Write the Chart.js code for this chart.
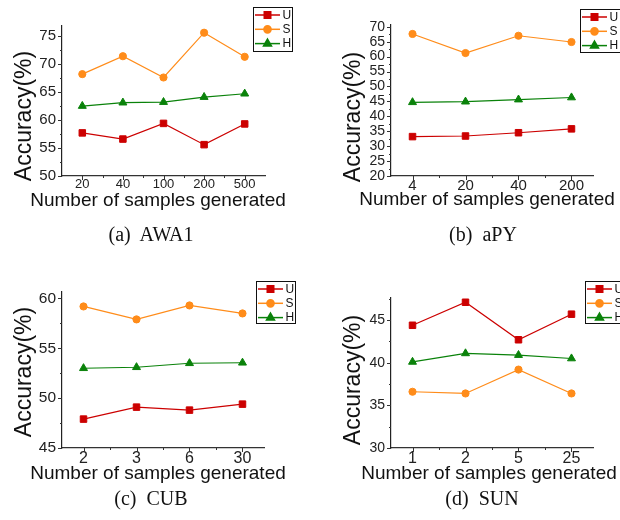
<!DOCTYPE html>
<html>
<head>
<meta charset="utf-8">
<script src="https://cdn.jsdelivr.net/npm/chart.js@4.4.0/dist/chart.umd.min.js"></script>
<style>
body{margin:0;background:#fff;width:620px;height:520px;position:relative;overflow:hidden;font-family:"Liberation Sans",Arial,sans-serif;color:#111}
.panel{position:absolute;width:310px;height:260px}
.txt{position:absolute;white-space:nowrap;transform:translate(-50%,-50%);line-height:1}
.ytitle{transform:translate(-50%,-50%) rotate(-90deg);font-size:23px}
.xtitle{font-size:19px}
.cap{font-family:"Liberation Serif","Times New Roman",serif;font-size:20px;word-spacing:5px}
</style>
</head>
<body>

<div class="panel" style="left:0;top:0"><canvas id="awa" width="310" height="260"></canvas></div>
<div class="panel" style="left:310px;top:0"><canvas id="apy" width="310" height="260"></canvas></div>
<div class="panel" style="left:0;top:260px"><canvas id="cub" width="310" height="260"></canvas></div>
<div class="panel" style="left:310px;top:260px"><canvas id="sun" width="310" height="260"></canvas></div>

<div class="txt ytitle" style="left:23px;top:116px">Accuracy(%)</div>
<div class="txt xtitle" style="left:158px;top:199px">Number of samples generated</div>
<div class="txt cap" style="left:151px;top:234px">(a) AWA1</div>

<div class="txt ytitle" style="left:352px;top:117px">Accuracy(%)</div>
<div class="txt xtitle" style="left:487px;top:198px">Number of samples generated</div>
<div class="txt cap" style="left:483px;top:234px">(b) aPY</div>

<div class="txt ytitle" style="left:23px;top:372px">Accuracy(%)</div>
<div class="txt xtitle" style="left:158px;top:472px">Number of samples generated</div>
<div class="txt cap" style="left:151px;top:498px">(c) CUB</div>

<div class="txt ytitle" style="left:352px;top:380px">Accuracy(%)</div>
<div class="txt xtitle" style="left:489px;top:472px">Number of samples generated</div>
<div class="txt cap" style="left:482px;top:498px">(d) SUN</div>

<script>
// data
const awaCats = ['20', '40', '100', '200', '500'];
const awaU = [57.7, 56.6, 59.4, 55.6, 59.3];
const awaS = [68.2, 71.4, 67.6, 75.6, 71.3];
const awaH = [62.5, 63.1, 63.2, 64.1, 64.7];
const awaTicks = [50, 55, 60, 65, 70, 75];

const apyCats = ['4', '20', '40', '200'];
const apyU = [33.2, 33.4, 34.5, 35.8];
const apyS = [67.6, 61.2, 67.0, 64.9];
const apyH = [44.7, 44.9, 45.6, 46.3];
const apyTicks = [20, 25, 30, 35, 40, 45, 50, 55, 60, 65, 70];

const cubCats = ['2', '3', '6', '30'];
const cubU = [47.9, 49.1, 48.8, 49.4];
const cubS = [59.2, 57.9, 59.3, 58.5];
const cubH = [53.0, 53.1, 53.5, 53.55];
const cubTicks = [45, 50, 55, 60];

const sunCats = ['1', '2', '5', '25'];
const sunU = [44.4, 47.1, 42.7, 45.7];
const sunS = [36.6, 36.4, 39.2, 36.4];
const sunH = [40.1, 41.1, 40.9, 40.5];
const sunTicks = [30, 35, 40, 45];

const seriesNames = ['U', 'S', 'H'];
const colors = ['#cc0000', '#ff8c1a', '#0a820a'];
const styles = ['rect', 'circle', 'triangle'];
const radii = [4.6, 3.6, 4.6];

// minor/major tick marks, drawn outward from the axes
const axisTicks = {
  id: 'axisTicks',
  afterDraw(chart, args, o) {
    const ctx = chart.ctx, x = chart.scales.x, y = chart.scales.y;
    ctx.save();
    ctx.strokeStyle = '#333';
    ctx.lineWidth = 1;
    const step = o.yTicks[1] - o.yTicks[0];
    o.yTicks.forEach(v => {
      let p = Math.round(y.getPixelForValue(v)) + 0.5;
      ctx.beginPath(); ctx.moveTo(x.left - 4, p); ctx.lineTo(x.left, p); ctx.stroke();
      if (v + step / 2 <= y.max) {
        p = Math.round(y.getPixelForValue(v + step / 2)) + 0.5;
        ctx.beginPath(); ctx.moveTo(x.left - 2, p); ctx.lineTo(x.left, p); ctx.stroke();
      }
    });
    for (let i = 0; i < o.n; i++) {
      let p = Math.round(x.getPixelForValue(i)) + 0.5;
      ctx.beginPath(); ctx.moveTo(p, y.bottom); ctx.lineTo(p, y.bottom + 4); ctx.stroke();
      if (i < o.n - 1) {
        p = Math.round(x.getPixelForValue(i + 0.5)) + 0.5;
        ctx.beginPath(); ctx.moveTo(p, y.bottom); ctx.lineTo(p, y.bottom + 2); ctx.stroke();
      }
    }
    ctx.restore();
  }
};

// boxed legend in the top right corner
const legendBox = {
  id: 'legendBox',
  afterDraw(chart, args, o) {
    const ctx = chart.ctx;
    ctx.save();
    ctx.strokeStyle = '#111';
    ctx.lineWidth = 1;
    ctx.strokeRect(o.x + 0.5, o.y + 0.5, o.w, o.h);
    chart.data.datasets.forEach((ds, i) => {
      const cy = o.y + 8 + i * 14.3;
      ctx.strokeStyle = ds.borderColor;
      ctx.lineWidth = 1.5;
      ctx.beginPath(); ctx.moveTo(o.x + 2, cy); ctx.lineTo(o.x + 27, cy); ctx.stroke();
      ctx.fillStyle = ds.borderColor;
      Chart.helpers.drawPoint(ctx, {pointStyle: ds.pointStyle, radius: ds.pointRadius, borderWidth: 1, rotation: 0}, o.x + 14.5, cy);
      ctx.fillStyle = '#111';
      ctx.font = '12px "Liberation Sans", Arial, sans-serif';
      ctx.textBaseline = 'middle';
      ctx.fillText(ds.label, o.x + 29.5, cy + 0.5);
    });
    ctx.restore();
  }
};

function makePanel(id, cats, u, s, h, yTicks, p) {
  const series = [u, s, h];
  const datasets = series.map((vals, k) => ({
    label: seriesNames[k],
    data: vals.map((v, i) => ({x: i, y: v})),
    borderColor: colors[k],
    backgroundColor: colors[k],
    pointBackgroundColor: colors[k],
    pointBorderColor: colors[k],
    pointStyle: styles[k],
    pointRadius: radii[k],
    pointBorderWidth: 1,
    borderWidth: 1.2,
    tension: 0
  }));

  new Chart(document.getElementById(id), {
    type: 'line',
    data: {datasets: datasets},
    options: {
      responsive: false,
      animation: false,
      layout: {padding: {left: 0, top: p.top, right: 310 - p.right, bottom: 0}},
      plugins: {
        legend: {display: false},
        tooltip: {enabled: false},
        axisTicks: {yTicks: yTicks, n: cats.length},
        legendBox: p.legend
      },
      scales: {
        x: {
          type: 'linear',
          min: -p.xpad,
          max: cats.length - 1 + p.xpad,
          afterBuildTicks: sc => { sc.ticks = cats.map((c, i) => ({value: i})); },
          afterFit: sc => { sc.height = 260 - p.bottom; },
          grid: {drawOnChartArea: false, drawTicks: false},
          border: {display: true, color: '#333', width: 1.2},
          ticks: {
            callback: v => cats[v],
            padding: 1,
            maxRotation: 0,
            autoSkip: false,
            color: '#222',
            font: {family: '"Liberation Sans", Arial, sans-serif', size: p.xFont}
          }
        },
        y: {
          min: p.ymin,
          max: p.ymax,
          afterBuildTicks: sc => { sc.ticks = yTicks.map(v => ({value: v})); },
          afterFit: sc => { sc.width = p.left; },
          grid: {drawOnChartArea: false, drawTicks: false},
          border: {display: true, color: '#222', width: 1.2},
          ticks: {
            padding: 6,
            autoSkip: false,
            color: '#222',
            font: {family: '"Liberation Sans", Arial, sans-serif', size: p.yFont}
          }
        }
      }
    },
    plugins: [axisTicks, legendBox]
  });
}

makePanel('awa', awaCats, awaU, awaS, awaH, awaTicks,
  {left: 62, right: 265, top: 26, bottom: 176, ymin: 50, ymax: 76.8, xpad: 0.5, xFont: 13, yFont: 15,
   legend: {x: 253, y: 7, w: 39, h: 44}});
makePanel('apy', apyCats, apyU, apyS, apyH, apyTicks,
  {left: 81, right: 283, top: 25, bottom: 176, ymin: 20, ymax: 70.6, xpad: 0.406, xFont: 15, yFont: 14,
   legend: {x: 270, y: 9, w: 45, h: 43}});
makePanel('cub', cubCats, cubU, cubS, cubH, cubTicks,
  {left: 62, right: 264, top: 32, bottom: 188, ymin: 45, ymax: 60.65, xpad: 0.406, xFont: 16, yFont: 15.5,
   legend: {x: 256, y: 21, w: 39, h: 42}});
makePanel('sun', sunCats, sunU, sunS, sunH, sunTicks,
  {left: 81, right: 283, top: 38, bottom: 188, ymin: 30, ymax: 47.6, xpad: 0.406, xFont: 16, yFont: 14,
   legend: {x: 275, y: 21, w: 45, h: 42}});
</script>
</body>
</html>
